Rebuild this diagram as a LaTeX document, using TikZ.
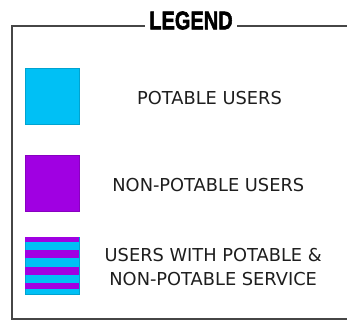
\documentclass[tikz,border=0pt]{standalone}
\usepackage{fontspec}
\setmainfont{DejaVu Sans}
\newfontfamily\legendfont[FakeBold=2.5]{Liberation Sans Bold}
\definecolor{potc}{RGB}{0,192,245}
\definecolor{nonpotc}{RGB}{160,0,226}
\definecolor{framec}{RGB}{70,70,70}
\definecolor{txtc}{RGB}{30,30,30}
\begin{document}
\begin{tikzpicture}[x=1pt,y=-1pt,
  swatch/.style={minimum width=54pt,minimum height=56pt,inner sep=0pt,draw=#1!85!black,line width=0.4pt,fill=#1},
  label/.style={font=\fontsize{17.8}{24.3}\selectfont,text=txtc,inner sep=0pt,align=center},
  frameline/.style={draw=framec,line width=1.6pt}]
\useasboundingbox (0,0) rectangle (347,321);
\fill[white] (0,0) rectangle (347,321);
% frame
\coordinate (tl) at (12,26);
\coordinate (tr) at (347,26);
\coordinate (bl) at (12,319);
\coordinate (br) at (347,319);
\draw[frameline] (tr) -- (tl) -- (bl) -- (br);
% title
\node[fill=white,inner xsep=4.5pt,inner ysep=2pt,text=black] (title) at (191,20.5)
  {\scalebox{0.78}[1]{\legendfont\fontsize{25.6}{27}\selectfont LEGEND}};
% swatches
\node[swatch=potc] (pot) at (52,96) {};
\node[swatch=nonpotc] (nonpot) at (52,183.5) {};
\node[swatch=potc,minimum height=57pt] (both) at (52,265.5) {};
\fill[nonpotc] (25,237) rectangle (79,241.7);
\fill[nonpotc] (25,250.3) rectangle (79,258.3);
\fill[nonpotc] (25,266.6) rectangle (79,274.5);
\fill[nonpotc] (25,282.5) rectangle (79,289.4);
% labels
\node[label,anchor=base] (potlab) at (209.5,104) {POTABLE USERS};
\node[label,anchor=base] (nonpotlab) at (208.3,191) {NON-POTABLE USERS};
\node[label] (bothlab) at (213.2,267.2) {USERS WITH POTABLE \&\\NON-POTABLE SERVICE};
\end{tikzpicture}
\end{document}
